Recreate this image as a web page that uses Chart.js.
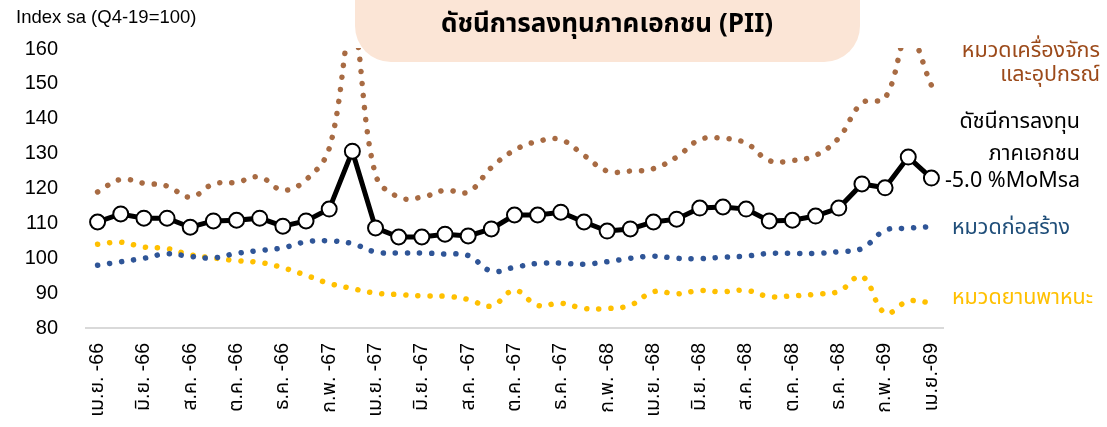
<!DOCTYPE html>
<html>
<head>
<meta charset="utf-8">
<script src="https://cdn.jsdelivr.net/npm/chart.js@4.4.1/dist/chart.umd.min.js"></script>
<style>
  html, body { margin: 0; padding: 0; background: #fff; overflow: hidden; }
  #wrap { width: 1107px; height: 427px; }
</style>
</head>
<body>
<div id="wrap"><canvas id="grafico-pii" width="1107" height="427"></canvas></div>
<script>
// เดือน (เม.ย. 66 - เม.ย. 69)
const meses = [
  'เม.ย. -66', 'พ.ค. -66', 'มิ.ย. -66', 'ก.ค. -66', 'ส.ค. -66', 'ก.ย. -66', 'ต.ค. -66', 'พ.ย. -66', 'ธ.ค. -66',
  'ม.ค. -67', 'ก.พ. -67', 'มี.ค. -67', 'เม.ย. -67', 'พ.ค. -67', 'มิ.ย. -67', 'ก.ค. -67', 'ส.ค. -67', 'ก.ย. -67',
  'ต.ค. -67', 'พ.ย. -67', 'ธ.ค. -67', 'ม.ค. -68', 'ก.พ. -68', 'มี.ค. -68', 'เม.ย. -68', 'พ.ค. -68', 'มิ.ย. -68',
  'ก.ค. -68', 'ส.ค. -68', 'ก.ย. -68', 'ต.ค. -68', 'พ.ย. -68', 'ธ.ค. -68', 'ม.ค. -69', 'ก.พ. -69', 'มี.ค. -69',
  'เม.ย.-69'
];

// ดัชนีการลงทุนภาคเอกชน (PII)
const pii = [110.4, 112.7, 111.5, 111.5, 108.9, 110.7, 110.9, 111.5, 109.2, 110.7, 114.1, 130.7, 108.7,
  106.1, 106.1, 106.9, 106.4, 108.4, 112.4, 112.4, 113.2, 110.4, 107.8, 108.4, 110.4, 111.2, 114.4,
  114.7, 114.1, 110.7, 110.9, 112.1, 114.4, 121.3, 120.2, 129.0, 123.0];

// หมวดเครื่องจักรและอุปกรณ์
const maquinas = [119.0, 122.6, 121.5, 120.7, 117.5, 121.3, 121.8, 123.3, 119.5, 122.5, 131.5, 166.0, 124.0,
  117.5, 117.5, 119.5, 119.0, 126.0, 131.0, 133.5, 134.0, 129.5, 125.0, 125.0, 125.7, 129.0, 134.0,
  134.4, 133.0, 128.0, 128.0, 129.5, 134.5, 144.5, 146.0, 164.0, 149.6];

// หมวดก่อสร้าง
const construcao = [98.0, 99.0, 100.0, 101.3, 100.5, 100.1, 101.4, 102.2, 103.0, 104.7, 105.0, 104.2, 101.8,
  101.5, 101.5, 101.2, 100.8, 96.3, 97.4, 98.5, 98.6, 98.3, 99.0, 100.0, 100.6, 100.0, 99.9,
  100.3, 100.6, 101.4, 101.4, 101.4, 101.9, 102.8, 108.0, 108.6, 109.1];

// หมวดยานพาหนะ
const veiculos = [104.0, 104.6, 103.2, 102.8, 101.0, 100.1, 99.3, 98.8, 97.3, 95.1, 92.8, 91.3, 90.0,
  89.6, 89.2, 89.1, 88.2, 86.3, 90.8, 86.5, 87.1, 85.6, 85.6, 86.5, 90.4, 89.8, 90.7,
  90.4, 90.8, 89.0, 89.2, 89.7, 90.5, 94.8, 84.3, 87.7, 87.2];

const fonteBase = "'Liberation Sans', 'Noto Sans Thai', 'Noto Sans', sans-serif";
const fonteThai = "'Noto Sans Thai', 'Noto Sans', 'Liberation Sans', sans-serif";

// Plugin para o título e os rótulos ao lado direito
const anotacoes = {
  id: 'anotacoes',
  beforeDatasetsDraw(chart) {
    const ctx = chart.ctx;
    ctx.save();
    // caixa do título
    ctx.fillStyle = '#FBE5D6';
    ctx.beginPath();
    ctx.roundRect(355, -40, 505, 102, 36);
    ctx.fill();
    ctx.fillStyle = '#000';
    ctx.font = 'bold 26px ' + fonteThai;
    ctx.textAlign = 'center';
    ctx.textBaseline = 'middle';
    ctx.fillText('ดัชนีการลงทุนภาคเอกชน (PII)', 607, 27);
    // unidade
    ctx.textAlign = 'left';
    ctx.font = '18.5px ' + fonteBase;
    ctx.fillText('Index sa (Q4-19=100)', 16, 18);
    ctx.restore();
  },
  afterDraw(chart) {
    const ctx = chart.ctx;
    ctx.save();
    ctx.textBaseline = 'middle';
    ctx.font = '21.5px ' + fonteThai;

    ctx.textAlign = 'right';
    ctx.fillStyle = '#9C4A1A';
    ctx.fillText('หมวดเครื่องจักร', 1100, 53);
    ctx.fillText('และอุปกรณ์', 1100, 77);

    ctx.fillStyle = '#000';
    ctx.fillText('ดัชนีการลงทุน', 1080, 124);
    ctx.fillText('ภาคเอกชน', 1080, 156);
    ctx.fillText('-5.0 %MoMsa', 1080, 183);

    ctx.textAlign = 'left';
    ctx.fillStyle = '#1F4E79';
    ctx.fillText('หมวดก่อสร้าง', 952, 230);
    ctx.fillStyle = '#FFC000';
    ctx.fillText('หมวดยานพาหนะ', 952, 300);
    ctx.restore();
  }
};

function linhaPontilhada(dados, cor) {
  return {
    data: dados,
    borderColor: cor,
    borderWidth: 5.5,
    borderDash: [0.1, 12],
    borderCapStyle: 'round',
    pointRadius: 0,
    tension: 0.4,
    fill: false,
    clip: 1
  };
}

function criarGrafico() {
  const ctx = document.getElementById('grafico-pii').getContext('2d');

  new Chart(ctx, {
    type: 'line',
    data: {
      labels: meses,
      datasets: [
        {
          data: pii,
          borderColor: '#000',
          borderWidth: 5,
          pointRadius: 7.5,
          pointBorderWidth: 2,
          pointBackgroundColor: '#fff',
          pointBorderColor: '#000',
          tension: 0,
          fill: false
        },
        linhaPontilhada(maquinas, '#A86B43'),
        linhaPontilhada(construcao, '#2F5597'),
        linhaPontilhada(veiculos, '#FFC000')
      ]
    },
    options: {
      responsive: false,
      animation: false,
      layout: { padding: { top: 49, right: 164, left: 0, bottom: 0 } },
      plugins: {
        legend: { display: false },
        tooltip: { enabled: false }
      },
      scales: {
        x: {
          offset: true,
          grid: { display: false, drawTicks: false },
          border: { display: true, color: '#D9D9D9', width: 2 },
          ticks: {
            autoSkip: false,
            minRotation: 90,
            maxRotation: 90,
            padding: 15,
            color: '#000',
            font: { size: 19.5, family: fonteBase },
            callback: function (value, index) {
              return index % 2 === 0 ? meses[index] : '';
            }
          },
          afterFit: function (scale) {
            scale.height = 99;
          }
        },
        y: {
          min: 80,
          max: 160,
          grid: { display: false, drawTicks: false },
          border: { display: false },
          ticks: {
            stepSize: 10,
            padding: 28,
            color: '#000',
            font: { size: 20, family: fonteBase }
          },
          afterFit: function (scale) {
            scale.width = 86;
          }
        }
      }
    },
    plugins: [anotacoes]
  });
}

criarGrafico();
</script>
</body>
</html>
